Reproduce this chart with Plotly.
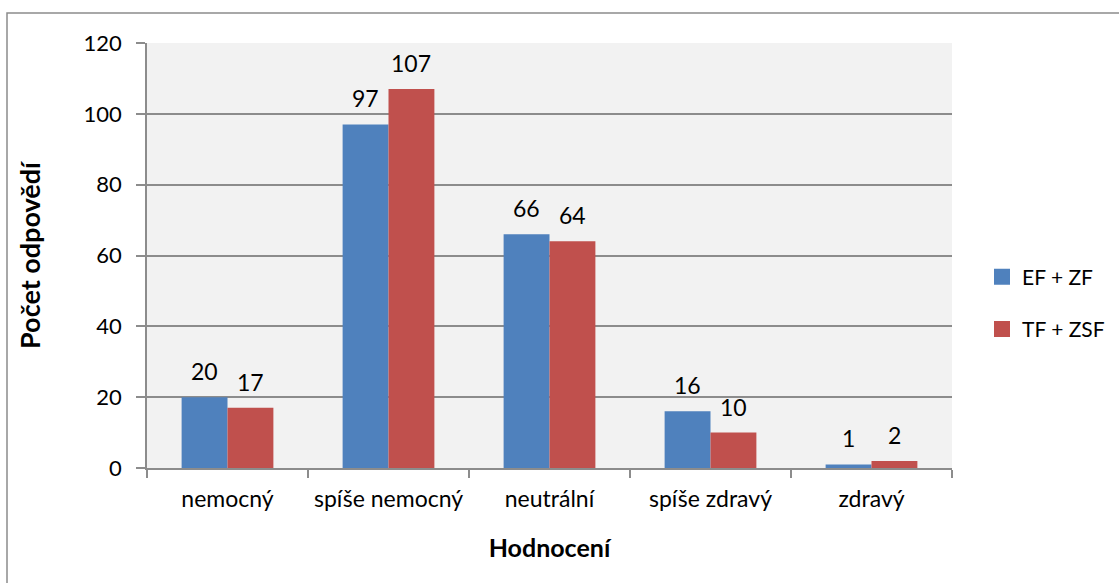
import plotly.graph_objects as go

categories = ["nemocný", "spíše nemocný", "neutrální", "spíše zdravý", "zdravý"]
series_names = ["EF + ZF", "TF + ZSF"]
ef_zf = [20, 97, 66, 16, 1]
tf_zsf = [17, 107, 64, 10, 2]
colors = ["#4F81BD", "#C0504D"]

FONT = "Lato"
W, H = 1119, 583
L, R, T, B = 147, 952, 43, 468
BARGAP = 0.43

fig = go.Figure()
for name, vals, col in zip(series_names, [ef_zf, tf_zsf], colors):
    fig.add_trace(go.Bar(
        x=categories, y=vals, name=name, marker=dict(color=col, line=dict(width=0)),
        showlegend=False, hoverinfo="x+y",
    ))
for name, col in zip(series_names, colors):
    fig.add_trace(go.Scatter(
        x=[None], y=[None], mode="markers", name=name, legendgroup=name,
        marker=dict(symbol="square", size=16, color=col),
    ))

pw, ph = R - L, B - T
bar_px = pw / len(categories) * (1 - BARGAP) / 2
for j, vals in enumerate([ef_zf, tf_zsf]):
    for c, v in zip(categories, vals):
        fig.add_annotation(x=c, y=v, text=str(v), showarrow=False, xanchor="center",
                           yanchor="bottom", xshift=(j - 0.5) * bar_px, yshift=10,
                           font=dict(family=FONT, size=23, color="black"))

fig.add_shape(type="rect", xref="paper", yref="paper",
              x0=(7 - L) / pw, x1=(W + 20 - L) / pw,
              y0=(B - (H + 20)) / ph, y1=(B - 13) / ph,
              line=dict(color="#8c8c8c", width=1.5), fillcolor="rgba(0,0,0,0)", layer="below")

fig.update_layout(
    width=W, height=H,
    margin=dict(l=L, r=W - R, t=T, b=H - B, autoexpand=False),
    paper_bgcolor="white", plot_bgcolor="#f2f2f2",
    barmode="group", bargap=BARGAP, bargroupgap=0,
    font=dict(family=FONT, size=22, color="black"),
    showlegend=True,
    legend=dict(x=(982 - L) / pw, xanchor="left", y=(B - 303) / ph, yanchor="middle",
                font=dict(family=FONT, size=21, color="black"), bgcolor="rgba(0,0,0,0)",
                traceorder="grouped", tracegroupgap=22, itemwidth=30),
    xaxis=dict(
        title=dict(text="<b>Hodnocení</b>", font=dict(family=FONT, size=25), standoff=28),
        tickson="boundaries", ticks="outside", ticklen=8, tickcolor="#8c8c8c", tickwidth=1.5,
        showline=True, linecolor="#8c8c8c", linewidth=1.5, showgrid=False,
        tickfont=dict(family=FONT, size=23), ticklabelstandoff=10, tickangle=0,
    ),
    yaxis=dict(
        title=dict(text="<b>Počet odpovědí</b>", font=dict(family=FONT, size=27), standoff=35),
        range=[0, 120], dtick=20, ticks="outside", ticklen=9, tickcolor="#8c8c8c", tickwidth=1.5,
        showline=True, linecolor="#8c8c8c", linewidth=1.5,
        showgrid=True, gridcolor="#8c8c8c", gridwidth=1.5, zeroline=False,
        tickfont=dict(family=FONT, size=22), ticklabelstandoff=10,
    ),
)

fig.write_html("out.html", post_script="document.body.style.margin='0px';",
               config={"displayModeBar": False})
